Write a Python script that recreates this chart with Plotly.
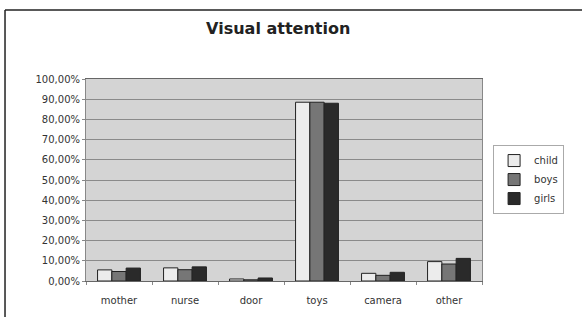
import plotly.graph_objects as go

categories = ["mother", "nurse", "door", "toys", "camera", "other"]
child = [5.5, 6.5, 1.0, 88.5, 3.8, 9.6]
boys = [4.7, 5.6, 0.6, 88.5, 2.8, 8.4]
girls = [6.4, 7.0, 1.5, 88.0, 4.3, 11.2]
ytick_vals = [0, 10, 20, 30, 40, 50, 60, 70, 80, 90, 100]
ytick_text = ["0,00%", "10,00%", "20,00%", "30,00%", "40,00%", "50,00%",
              "60,00%", "70,00%", "80,00%", "90,00%", "100,00%"]

series = [("child", child, "#ececec"), ("boys", boys, "#767676"), ("girls", girls, "#2a2a2a")]

FONT = "DejaVu Sans, Arial, sans-serif"

fig = go.Figure()
for name, vals, col in series:
    fig.add_trace(go.Bar(x=categories, y=vals, name=name,
                         marker=dict(color=col, line=dict(color="#222", width=1))))

fig.update_layout(
    width=582, height=317,
    margin=dict(l=86, r=100, t=79, b=36),
    paper_bgcolor="white", plot_bgcolor="#d4d4d4",
    barmode="group", bargap=0.35, bargroupgap=0,
    font=dict(family=FONT, size=10, color="#333"),
    title=dict(text="<b>Visual attention</b>", x=0.478, xanchor="center", y=0.91, yanchor="middle",
               font=dict(family=FONT, size=16, color="#222")),
    legend=dict(x=1.028, y=0.673, xanchor="left", yanchor="top", bgcolor="white",
                bordercolor="#aaa", borderwidth=1, font=dict(family=FONT, size=10, color="#333"),
                itemwidth=30, tracegroupgap=0),
    showlegend=True,
)
fig.update_yaxes(range=[0, 100], tickvals=ytick_vals, ticktext=ytick_text,
                 tickfont=dict(family=FONT, size=10, color="#333"),
                 showgrid=True, gridcolor="#8a8a8a", gridwidth=1,
                 ticks="outside", ticklen=3, tickcolor="#888",
                 showline=True, linecolor="#888", mirror=True, zeroline=False, automargin=False)
fig.update_xaxes(showline=True, linecolor="#666", mirror=True,
                 ticks="outside", tickson="boundaries", ticklen=3, tickcolor="#888",
                 tickfont=dict(family=FONT, size=10, color="#333"), automargin=False,
                 ticklabelstandoff=10)

# outer frame lines
fig.add_shape(type="line", xref="paper", yref="paper", x0=-0.2045, x1=1.26, y0=1.3416, y1=1.3416,
              line=dict(color="#222", width=1.5))
fig.add_shape(type="line", xref="paper", yref="paper", x0=-0.2045, x1=-0.2045, y0=1.3416, y1=-0.2,
              line=dict(color="#222", width=1.5))

fig.write_html("out.html", config={"displayModeBar": False},
               post_script="document.body.style.margin='0px';")
